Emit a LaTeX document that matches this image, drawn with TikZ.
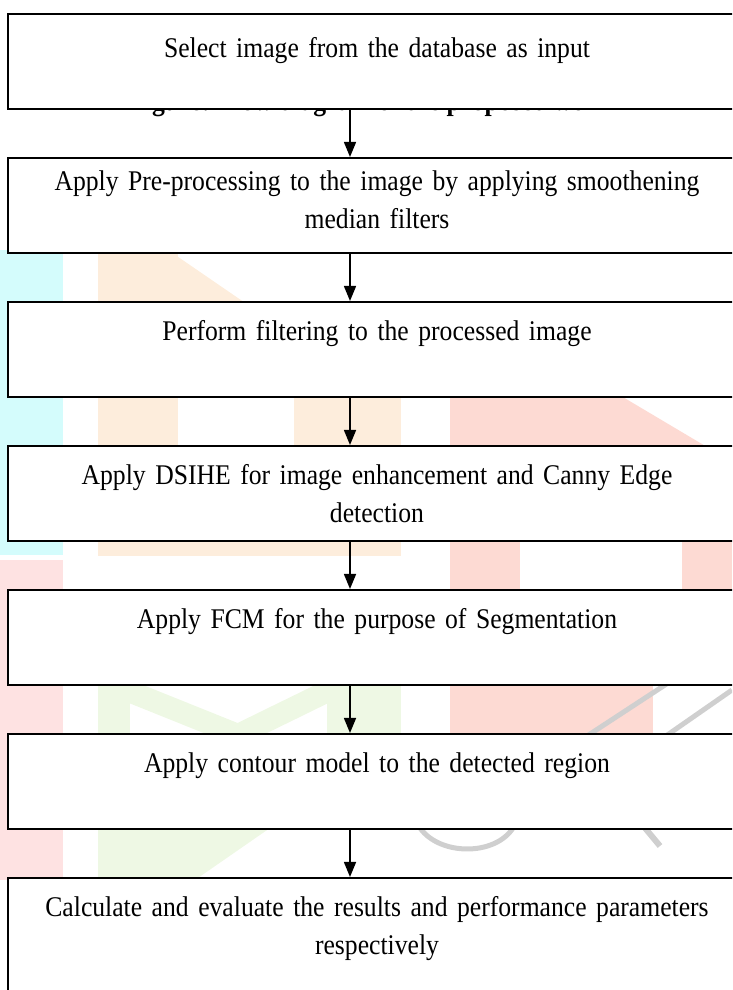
\documentclass[tikz,border=0pt]{standalone}
\usepackage{fontspec}
\setmainfont{Liberation Serif}[FakeStretch=0.9]
\usetikzlibrary{positioning,arrows.meta}

\definecolor{wmcyan}{HTML}{D4FCFC}
\definecolor{wmorange}{HTML}{FDEDDC}
\definecolor{wmred}{HTML}{FDDAD3}
\definecolor{wmgreen}{HTML}{EEF8E4}
\definecolor{wmpink}{HTML}{FEE2E2}
\definecolor{wmgray}{HTML}{CFCFCF}

\newcommand\tightspace{\spaceskip=5.5pt plus 2pt minus 1pt\relax}

\tikzset{
  stepbox/.style={rectangle, draw, line width=2pt, fill=white,
    minimum width=738pt, text width=720pt, align=center,
    inner ysep=0pt, text height=39pt, text depth=56pt,
    font=\fontsize{28.5}{38}\selectfont\tightspace},
  flow/.style={line width=1.5pt, -{Triangle[width=12pt,length=15pt]}},
}

\begin{document}
\begin{tikzpicture}[x=1pt,y=1pt]
      \useasboundingbox (0,0) rectangle (732,990);
      \clip (0,0) rectangle (732,990);
      % faint logo in the background, y measured downwards
      \begin{scope}[shift={(0,990)},yscale=-1]
        \fill[wmcyan] (0,250) rectangle (63,555);
        \fill[wmpink] (0,560) rectangle (63,880);
        \fill[wmorange] (98,250) rectangle (178,555);
        \fill[wmorange] (168,250) -- (270,320) -- (168,320) -- cycle;
        \fill[wmorange] (294,390) rectangle (401,556);
        \fill[wmorange] (98,530) rectangle (401,556);
        \fill[wmred] (450,390) rectangle (520,740);
        \fill[wmred] (450,390) -- (611,390) -- (712,450) -- (450,450) -- cycle;
        \fill[wmred] (682,520) rectangle (732,600);
        \fill[wmred] (450,683) rectangle (653,738);
        \fill[wmgreen] (98,683) rectangle (130,880);
        \draw[wmgreen, line width=22pt] (126,690) -- (238,735) -- (330,690);
        \fill[wmgreen] (327,683) rectangle (401,738);
        \fill[wmgreen] (98,828) -- (270,828) -- (195,880) -- (98,880) -- cycle;
        \draw[wmgray, line width=5pt] (420,828) .. controls (440,856) and (495,856) .. (513,828);
        \draw[wmgray, line width=6pt] (645,828) -- (660,846);
        \draw[wmgray, line width=5pt] (584,738) -- (668,683);
        \draw[wmgray, line width=5pt] (663,738) -- (732,690);
      \end{scope}
      \node[anchor=base, font=\fontsize{28.5}{32}\selectfont\bfseries] (caption) at (370,879)
        {Figure: Flow diagram of the proposed work};
      \node[stepbox, anchor=north, text height=44pt, text depth=51pt] (s1) at (377,977) {Select image from the database as input};
      \node[stepbox, below=47pt of s1, text height=33pt, text depth=62pt] (s2) {Apply Pre-processing to the image by applying smoothening\\ median filters};
      \node[stepbox, below=47pt of s2] (s3) {Perform filtering to the processed image};
      \node[stepbox, below=47pt of s3] (s4) {Apply DSIHE for image enhancement and Canny Edge\\ detection};
      \node[stepbox, below=47pt of s4] (s5) {Apply FCM for the purpose of Segmentation};
      \node[stepbox, below=47pt of s5] (s6) {Apply contour model to the detected region};
      \node[stepbox, below=47pt of s6, text depth=120pt] (s7) {Calculate and evaluate the results and performance parameters\\ respectively};
      \coordinate (axis) at (350,0);
      \draw[flow] (s1.south -| axis) -- (s2.north -| axis);
      \draw[flow] (s2.south -| axis) -- (s3.north -| axis);
      \draw[flow] (s3.south -| axis) -- (s4.north -| axis);
      \draw[flow] (s4.south -| axis) -- (s5.north -| axis);
      \draw[flow] (s5.south -| axis) -- (s6.north -| axis);
      \draw[flow] (s6.south -| axis) -- (s7.north -| axis);
    \end{tikzpicture}
\end{document}
